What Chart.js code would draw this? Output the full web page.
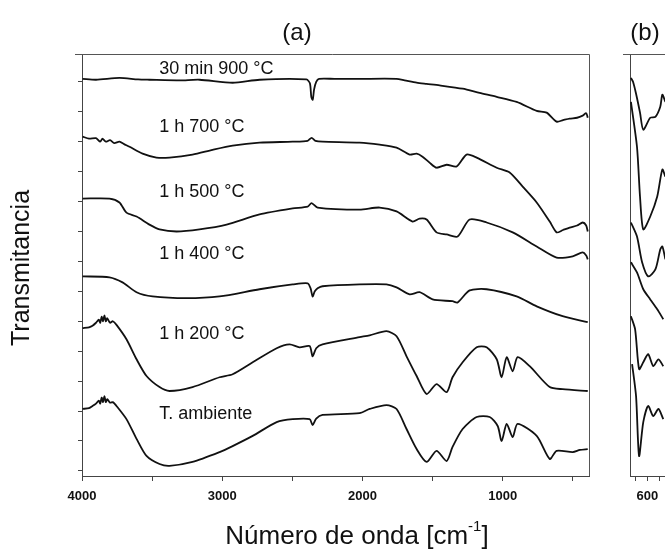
<!DOCTYPE html>
<html>
<head>
<meta charset="utf-8">
<script src="https://cdn.jsdelivr.net/npm/chart.js@4"></script>
<style>
  html, body { margin: 0; padding: 0; background: #fff; overflow: hidden; }
  #wrap { position: relative; width: 665px; height: 551px; overflow: hidden; }
  #chartA { position: absolute; left: 0; top: 0; }
  #chartB { position: absolute; left: 600px; top: 0; }
</style>
</head>
<body>
<div id="wrap">
  <canvas id="chartA" width="620" height="551"></canvas>
  <canvas id="chartB" width="140" height="551"></canvas>
</div>
<script>
// panel (a): wavenumber (cm-1) and offset transmittance per sample
const wn900 = [3996, 3900, 3733, 3600, 3519, 3300, 3162, 2926, 2734, 2400, 2375, 2365, 2355, 2345, 2330, 2310, 2200, 2021, 1757, 1700, 1614, 1543, 1450, 1286, 1165, 1043, 901, 758, 687, 616, 570, 523, 470, 430, 405, 394];
const t900 = [13.1, 13.07, 13.13, 13.08, 13.07, 13.05, 13.07, 12.97, 13.07, 13.08, 12.95, 12.5, 12.4, 12.75, 13.0, 13.1, 13.1, 13.1, 13.1, 13.05, 12.97, 12.93, 12.88, 12.77, 12.63, 12.5, 12.33, 12.03, 11.97, 11.67, 11.72, 11.77, 11.8, 11.87, 11.95, 11.8];

const wn700 = [3996, 3950, 3900, 3870, 3854, 3830, 3800, 3770, 3733, 3700, 3661, 3568, 3469, 3376, 3212, 3069, 2926, 2734, 2498, 2391, 2363, 2335, 2285, 2021, 1878, 1757, 1664, 1614, 1572, 1522, 1472, 1400, 1329, 1258, 1186, 1043, 951, 858, 758, 665, 616, 570, 523, 470, 430, 405, 394];
const t700 = [11.17, 11.1, 11.12, 11.0, 11.1, 11.0, 11.05, 10.95, 11.0, 10.92, 10.83, 10.6, 10.47, 10.47, 10.57, 10.73, 10.87, 10.97, 11.0, 11.03, 11.13, 11.03, 11.0, 10.97, 10.9, 10.8, 10.57, 10.6, 10.5, 10.3, 10.13, 10.23, 10.17, 10.57, 10.47, 10.13, 9.97, 9.5, 8.97, 8.33, 7.97, 8.05, 8.13, 8.2, 8.3, 8.2, 8.0];

const wn500 = [3996, 3804, 3733, 3683, 3611, 3519, 3447, 3326, 3162, 2969, 2734, 2498, 2391, 2363, 2320, 2021, 1878, 1757, 1643, 1593, 1543, 1472, 1400, 1322, 1236, 1115, 929, 758, 616, 501, 430, 405, 394];
const t500 = [9.1, 9.1, 8.97, 8.63, 8.5, 8.23, 8.07, 8.0, 8.07, 8.23, 8.57, 8.77, 8.83, 8.95, 8.8, 8.73, 8.8, 8.67, 8.33, 8.43, 8.4, 7.97, 7.9, 7.83, 8.4, 8.3, 7.97, 7.5, 7.13, 7.17, 7.3, 7.2, 7.07];

const wn400 = [3996, 3804, 3711, 3611, 3497, 3255, 3019, 2734, 2498, 2391, 2370, 2356, 2340, 2320, 2285, 2021, 1829, 1757, 1664, 1593, 1500, 1358, 1322, 1236, 1115, 901, 758, 573, 394];
const t400 = [6.5, 6.47, 6.3, 5.97, 5.83, 5.77, 5.83, 6.07, 6.23, 6.27, 6.1, 5.83, 6.0, 6.1, 6.17, 6.23, 6.23, 6.13, 5.9, 5.97, 5.73, 5.67, 5.63, 6.03, 6.07, 5.83, 5.5, 5.17, 4.97];

const wn200 = [3996, 3950, 3925, 3900, 3880, 3870, 3860, 3850, 3840, 3830, 3820, 3800, 3780, 3754, 3683, 3611, 3540, 3447, 3376, 3212, 3019, 2926, 2783, 2612, 2520, 2449, 2377, 2356, 2330, 2285, 2021, 1949, 1829, 1757, 1686, 1614, 1543, 1472, 1400, 1358, 1286, 1186, 1115, 1043, 1008, 972, 929, 894, 808, 665, 573, 394];
const t200 = [4.77, 4.8, 4.85, 4.95, 5.05, 4.95, 5.15, 5.0, 5.2, 5.0, 5.1, 4.95, 5.0, 4.88, 4.4, 3.73, 3.17, 2.8, 2.67, 2.8, 3.13, 3.23, 3.63, 4.1, 4.23, 4.13, 4.17, 3.83, 4.1, 4.23, 4.47, 4.53, 4.67, 4.5, 3.83, 3.17, 2.57, 2.9, 2.63, 3.13, 3.63, 4.13, 4.13, 3.73, 3.13, 3.8, 3.33, 3.8, 3.5, 2.8, 2.73, 2.67];

const wnAmb = [3996, 3950, 3925, 3900, 3880, 3870, 3860, 3850, 3840, 3830, 3820, 3800, 3780, 3754, 3683, 3611, 3540, 3447, 3376, 3212, 3019, 2926, 2783, 2612, 2498, 2377, 2356, 2330, 2285, 2021, 1949, 1829, 1757, 1686, 1614, 1543, 1472, 1400, 1358, 1286, 1186, 1093, 1036, 1008, 972, 929, 894, 758, 665, 616, 501, 450, 394];
const tAmb = [2.07, 2.1, 2.17, 2.25, 2.35, 2.25, 2.45, 2.3, 2.5, 2.3, 2.4, 2.28, 2.3, 2.17, 1.73, 1.07, 0.5, 0.23, 0.17, 0.3, 0.63, 0.83, 1.17, 1.63, 1.73, 1.73, 1.53, 1.75, 1.87, 1.93, 2.07, 2.2, 2.07, 1.4, 0.73, 0.3, 0.67, 0.33, 0.8, 1.4, 1.8, 1.8, 1.5, 1.0, 1.57, 1.13, 1.57, 1.17, 0.4, 0.67, 0.63, 0.7, 0.73];

// curve labels and where they sit (wavenumber of left edge, offset value)
const curveLabels = ["30 min 900 °C", "1 h 700 °C", "1 h 500 °C", "1 h 400 °C", "1 h 200 °C", "T. ambiente"];
const labelWn = 3450;
const labelY = [13.43, 11.5, 9.33, 7.23, 4.57, 1.9];

// tick positions
const xTicksA = [4000, 3500, 3000, 2500, 2000, 1500, 1000, 500];
const xLabelsA = [4000, 3000, 2000, 1000];
const yTicks = [0, 1, 2, 3, 4, 5, 6, 7, 8, 9, 10, 11, 12, 13];
const xTicksB = [650, 600, 550, 500, 450];
const xLabelsB = [600];

// panel (b): far-IR detail
const bWn900 = [671, 662, 649, 632, 618, 588, 566, 545, 536, 523];
const b900 = [13.13, 13.0, 12.6, 11.97, 11.4, 11.8, 11.83, 12.17, 12.57, 12.33];
const bWn700 = [671, 645, 632, 618, 588, 558, 536, 523];
const b700 = [12.33, 10.83, 9.17, 8.07, 8.5, 9.17, 10.07, 9.83];
const bWn500 = [671, 645, 623, 597, 566, 545, 536, 523];
const b500 = [8.3, 7.83, 6.97, 6.5, 6.73, 7.4, 7.5, 7.07];
const bWn400 = [671, 645, 618, 588, 558, 532];
const b400 = [6.97, 6.63, 6.07, 5.73, 5.4, 5.07];
const bWn200 = [671, 653, 636, 618, 597, 575, 553, 532];
const b200 = [5.17, 4.73, 3.4, 3.63, 3.9, 3.5, 3.73, 3.5];
const bWnAmb = [666, 649, 636, 618, 597, 575, 553, 532];
const bAmb = [3.57, 2.5, 0.5, 1.63, 2.17, 1.83, 2.07, 1.73];

function pts(xs, ys) {
  return xs.map((x, i) => ({ x: x, y: ys[i] }));
}

function line(xs, ys) {
  return {
    data: pts(xs, ys),
    borderColor: "#111",
    borderWidth: 1.8,
    pointRadius: 0,
    tension: 0.25,
    fill: false
  };
}

function fixedTicks(list) {
  return s => { s.ticks = list.map(v => ({ value: v })); };
}

// top and right edges of the box
const frame = {
  id: "frame",
  afterDraw(chart) {
    const ctx = chart.ctx, a = chart.chartArea;
    ctx.save();
    ctx.strokeStyle = "#555";
    ctx.lineWidth = 1;
    ctx.beginPath();
    ctx.moveTo(a.left - 7, a.top + 0.5);
    ctx.lineTo(a.right + 0.5, a.top + 0.5);
    ctx.lineTo(a.right + 0.5, a.bottom);
    ctx.stroke();
    ctx.restore();
  }
};

// panel title, axis titles and curve names
const texts = {
  id: "texts",
  afterDraw(chart, args, opts) {
    const ctx = chart.ctx;
    ctx.save();
    ctx.fillStyle = "#111";
    ctx.textBaseline = "middle";
    ctx.textAlign = "center";
    ctx.font = "24px Arial";
    ctx.fillText(opts.panel, opts.panelX, 33);

    if (opts.full) {
      const xs = chart.scales.x, ys = chart.scales.y;
      // x title with superscript
      const main = "Número de onda [cm", sup = "-1", end = "]";
      ctx.textAlign = "left";
      ctx.font = "26px Arial";
      const w1 = ctx.measureText(main).width, w3 = ctx.measureText(end).width;
      ctx.font = "15px Arial";
      const w2 = ctx.measureText(sup).width;
      let x = 357 - (w1 + w2 + w3) / 2;
      ctx.font = "26px Arial";
      ctx.fillText(main, x, 537);
      ctx.font = "15px Arial";
      ctx.fillText(sup, x + w1, 527);
      ctx.font = "26px Arial";
      ctx.fillText(end, x + w1 + w2, 537);

      // y title
      ctx.save();
      ctx.translate(22, 268);
      ctx.rotate(-Math.PI / 2);
      ctx.textAlign = "center";
      ctx.font = "25px Arial";
      ctx.fillText("Transmitancia", 0, 0);
      ctx.restore();

      // curve names
      ctx.font = "18px Arial";
      ctx.textAlign = "left";
      curveLabels.forEach((t, i) => {
        ctx.fillText(t, xs.getPixelForValue(labelWn), ys.getPixelForValue(labelY[i]));
      });
    }
    ctx.restore();
  }
};

const tickFont = { family: "Arial", size: 13, weight: "bold" };

new Chart(document.getElementById("chartA"), {
  type: "line",
  data: {
    datasets: [
      line(wn900, t900), line(wn700, t700), line(wn500, t500),
      line(wn400, t400), line(wn200, t200), line(wnAmb, tAmb)
    ]
  },
  options: {
    responsive: false,
    animation: false,
    layout: { padding: { top: 54, right: 31, left: 0, bottom: 0 } },
    plugins: {
      legend: { display: false },
      tooltip: { enabled: false },
      texts: { panel: "(a)", panelX: 297, full: true }
    },
    scales: {
      x: {
        type: "linear",
        reverse: true,
        min: 385,
        max: 4000,
        afterBuildTicks: fixedTicks(xTicksA),
        afterFit(s) { s.height = 75; },
        border: { color: "#444", width: 1 },
        grid: { drawOnChartArea: false, drawTicks: true, tickLength: 5, color: "#444" },
        ticks: {
          maxRotation: 0,
          autoSkip: false,
          padding: 8,
          color: "#111",
          font: tickFont,
          callback: v => (xLabelsA.includes(v) ? String(v) : "")
        }
      },
      y: {
        type: "linear",
        min: -0.17,
        max: 13.93,
        afterBuildTicks: fixedTicks(yTicks),
        afterFit(s) { s.width = 82; },
        border: { color: "#444", width: 1 },
        grid: { drawOnChartArea: false, drawTicks: true, tickLength: 4, color: "#444" },
        ticks: { callback: () => "" }
      }
    }
  },
  plugins: [frame, texts]
});

new Chart(document.getElementById("chartB"), {
  type: "line",
  data: {
    datasets: [
      line(bWn900, b900), line(bWn700, b700), line(bWn500, b500),
      line(bWn400, b400), line(bWn200, b200), line(bWnAmb, bAmb)
    ]
  },
  options: {
    responsive: false,
    animation: false,
    layout: { padding: { top: 54, right: 46, left: 0, bottom: 0 } },
    plugins: {
      legend: { display: false },
      tooltip: { enabled: false },
      texts: { panel: "(b)", panelX: 45, full: false }
    },
    scales: {
      x: {
        type: "linear",
        reverse: true,
        min: 400,
        max: 675,
        afterBuildTicks: fixedTicks(xTicksB),
        afterFit(s) { s.height = 75; },
        border: { color: "#444", width: 1 },
        grid: { drawOnChartArea: false, drawTicks: true, tickLength: 5, color: "#444" },
        ticks: {
          maxRotation: 0,
          autoSkip: false,
          padding: 8,
          color: "#111",
          font: tickFont,
          callback: v => (xLabelsB.includes(v) ? String(v) : "")
        }
      },
      y: {
        type: "linear",
        min: -0.17,
        max: 13.93,
        afterFit(s) { s.width = 30; },
        border: { color: "#444", width: 1 },
        grid: { display: false },
        ticks: { display: false }
      }
    }
  },
  plugins: [frame, texts]
});
</script>
</body>
</html>
